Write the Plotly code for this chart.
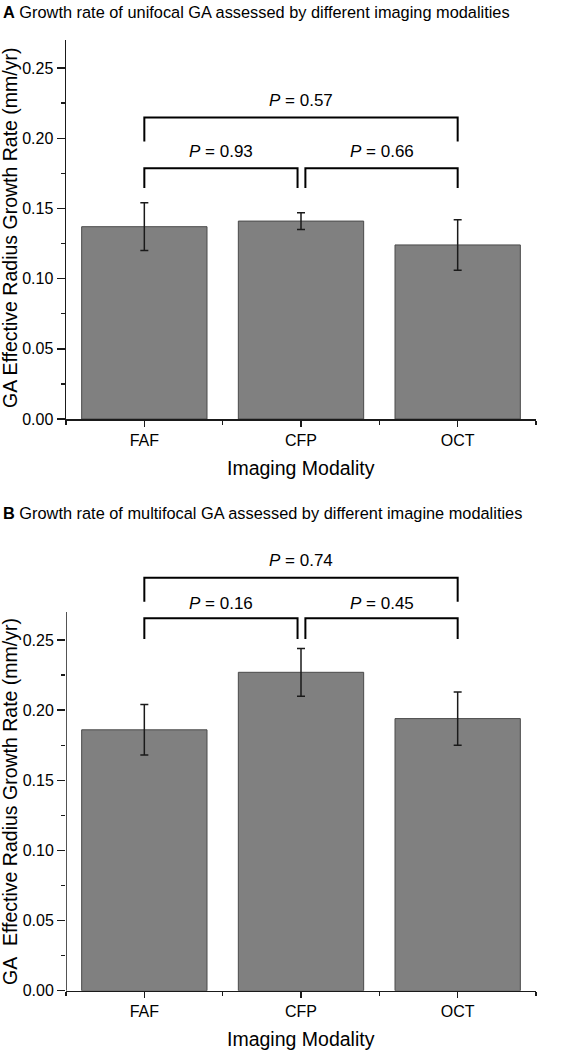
import plotly.graph_objects as go

# ---------------- data ----------------
categories = ["FAF", "CFP", "OCT"]
unifocal_rate = [0.137, 0.141, 0.124]
unifocal_err = [0.017, 0.006, 0.018]
multifocal_rate = [0.186, 0.227, 0.194]
multifocal_err = [0.018, 0.017, 0.019]
# comparisons: (i, j, P value)
unifocal_p = [(0, 1, "0.93"), (1, 2, "0.66"), (0, 2, "0.57")]
multifocal_p = [(0, 1, "0.16"), (1, 2, "0.45"), (0, 2, "0.74")]
y_tickvals = [0.00, 0.05, 0.10, 0.15, 0.20, 0.25]
y_minor = [0.025, 0.075, 0.125, 0.175, 0.225]
titles = ["<b>A</b> Growth rate of unifocal GA assessed by different imaging modalities",
          "<b>B</b> Growth rate of multifocal GA assessed by different imagine modalities"]
y_titles = ["GA Effective Radius Growth Rate (mm/yr)",
            "GA\u00a0 Effective Radius Growth Rate (mm/yr)"]
x_title = "Imaging Modality"

# ---------------- layout constants ----------------
W, H = 571, 1050
FONT = "Liberation Sans, Arial, sans-serif"
DARK = "#1a1a1a"
xpos = list(range(len(categories)))
x_dom = [66 / W, 536 / W]
top_dom = [1 - 419 / H, 1 - 40 / H]
bot_dom = [1 - 990.7 / H, 1 - 555.9 / H]
top_range = [0, 0.27]
bot_range = [0, 0.31]
axis_top = 0.27
# bracket levels: (inner bar, inner leg, inner text, outer bar, outer leg, outer text)
top_levels = (0.1787, 0.1645, 0.1906, 0.2148, 0.1977, 0.227)
bot_levels = (0.2655, 0.2507, 0.2762, 0.2944, 0.2773, 0.3066)

fig = go.Figure()

for rate, err, xa, ya in [(unifocal_rate, unifocal_err, "x", "y"),
                          (multifocal_rate, multifocal_err, "x2", "y2")]:
    fig.add_trace(go.Bar(
        x=xpos, y=rate, width=0.8, xaxis=xa, yaxis=ya,
        marker=dict(color="#808080", line=dict(color="#4a4a4a", width=1)),
        error_y=dict(type="data", array=err, visible=True,
                     thickness=1.5, width=4, color=DARK),
        showlegend=False, hoverinfo="skip"))

common_x = dict(domain=x_dom, range=[-0.5, 2.5], tickmode="array",
                tickvals=xpos, ticktext=categories, ticks="outside",
                ticklen=6, tickwidth=1.5, tickcolor=DARK,
                showline=True, linewidth=1.5, linecolor=DARK,
                showgrid=False, zeroline=False, automargin=False,
                tickfont=dict(family=FONT, size=16, color="#000"),
                minor=dict(tickmode="array", tickvals=[-0.5, 0.5, 1.5, 2.5],
                           ticks="outside", ticklen=4, tickwidth=1.5,
                           tickcolor=DARK, showgrid=False))
common_y = dict(tickmode="array", tickvals=y_tickvals,
                ticktext=[f"{v:.2f}" for v in y_tickvals],
                ticks="outside", ticklen=8, tickwidth=1.5, tickcolor=DARK,
                linewidth=1.5, linecolor=DARK, automargin=False,
                showgrid=False, zeroline=False,
                tickfont=dict(family=FONT, size=16, color="#000"),
                minor=dict(tickmode="array", tickvals=y_minor,
                           ticks="outside", ticklen=4, tickwidth=1.5,
                           tickcolor=DARK, showgrid=False))

fig.update_layout(
    template="none",
    width=W, height=H,
    margin=dict(l=0, r=0, t=0, b=0, autoexpand=False),
    paper_bgcolor="white", plot_bgcolor="white",
    font=dict(family=FONT, color="#000"),
    xaxis=dict(anchor="y", **common_x),
    yaxis=dict(anchor="x", domain=top_dom, range=top_range, showline=True, **common_y),
    xaxis2=dict(anchor="y2", **common_x),
    yaxis2=dict(anchor="x2", domain=bot_dom, range=bot_range, showline=False, **common_y),
)

shapes = []
annotations = []
# y axis line for bottom panel (axis range extended to hold brackets)
shapes.append(dict(type="line", xref="x2", yref="y2", x0=-0.5, x1=-0.5,
                   y0=0, y1=axis_top, line=dict(color=DARK, width=1.5)))

for comps, levels, xa, ya in [(unifocal_p, top_levels, "x", "y"),
                              (multifocal_p, bot_levels, "x2", "y2")]:
    in_bar, in_leg, in_txt, out_bar, out_leg, out_txt = levels
    for i, j, p in comps:
        outer = (j - i) > 1
        bar, leg, txt = (out_bar, out_leg, out_txt) if outer else (in_bar, in_leg, in_txt)
        x0, x1 = float(xpos[i]), float(xpos[j])
        if not outer:
            if j == 1:
                x1 -= 0.022
            if i == 1:
                x0 += 0.028
        shapes.append(dict(type="path", xref=xa, yref=ya,
                           path=f"M {x0},{leg} L {x0},{bar} L {x1},{bar} L {x1},{leg}",
                           line=dict(color="#000", width=2)))
        annotations.append(dict(xref=xa, yref=ya, x=(x0 + x1) / 2, y=txt,
                                text=f"<i>P</i> = {p}", showarrow=False,
                                xanchor="center", yanchor="middle",
                                font=dict(family=FONT, size=17, color="#000")))

# panel titles
for t, ypx in zip(titles, [12, 513]):
    annotations.append(dict(xref="paper", yref="paper", x=1 / W, y=1 - ypx / H,
                            text=t, showarrow=False, xanchor="left", yanchor="middle",
                            font=dict(family=FONT, size=16.35, color="#000")))
# axis titles
for ypx in [468, 1039]:
    annotations.append(dict(xref="paper", yref="paper", x=301 / W, y=1 - ypx / H,
                            text=x_title, showarrow=False, xanchor="center",
                            yanchor="middle",
                            font=dict(family=FONT, size=19.5, color="#000")))
for t, ypx in zip(y_titles, [228, 802]):
    annotations.append(dict(xref="paper", yref="paper", x=10 / W, y=1 - ypx / H,
                            text=t, showarrow=False, textangle=-90,
                            xanchor="center", yanchor="middle",
                            font=dict(family=FONT, size=19.5, color="#000")))

fig.update_layout(shapes=shapes, annotations=annotations)
fig.write_html("out.html",
               config={"displayModeBar": False, "staticPlot": True},
               post_script="document.body.style.margin='0';document.body.style.padding='0';")
